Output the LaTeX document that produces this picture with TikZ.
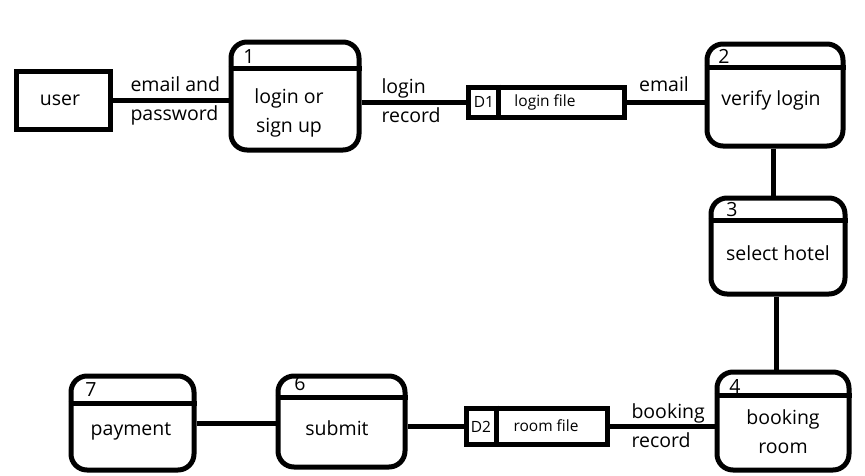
\documentclass[tikz,border=0pt]{standalone}
\usepackage{fontspec}
\setmainfont{Open Sans}
\usetikzlibrary{positioning}
\usetikzlibrary{calc}

\begin{document}
\begin{tikzpicture}[x=1pt, y=-1pt, line width=5pt,
  every node/.style={inner sep=0pt, font=\fontsize{19.5}{29}\selectfont},
  entity/.style={draw, minimum width=94pt, minimum height=58pt},
  proc/.style={draw, rounded corners=16pt},
  store/.style={draw, minimum height=30pt},
  small/.style={font=\fontsize{15.5}{18}\selectfont},
  txt/.style={align=center},
  flow/.style={align=left, anchor=west}]

        % Canvas
        \useasboundingbox (0,0) rectangle (865,475);

        % External entity
        \node[entity] (user) at (63,100) {};
        \node (userlbl) at (60,100) {user};

        % Processes
        \node[proc, minimum width=128pt, minimum height=108pt] (p1) at (295,96) {};
        \node[proc, minimum width=136pt, minimum height=102pt] (p2) at (775,95) {};
        \node[proc, minimum width=134pt, minimum height=96pt] (p3) at (778,246) {};
        \node[proc, minimum width=132pt, minimum height=98pt] (p4) at (783,421) {};
        \node[proc, minimum width=127pt, minimum height=91pt] (p6) at (341.5,421.5) {};
        \node[proc, minimum width=123pt, minimum height=94pt] (p7) at (132.5,423) {};

        % Header lines of the processes
        \foreach \p/\h in {p1/29, p2/26, p3/25, p4/26, p6/24, p7/30} {
          \draw ($(\p.north west)+(0,\h)$) -- ($(\p.north east)+(0,\h)$);
        }

        % Process numbers
        \node (n1) at (249,57) {1};
        \node (n2) at (724,56) {2};
        \node (n3) at (732,210) {3};
        \node (n4) at (735,386) {4};
        \node (n6) at (300,384) {6};
        \node (n7) at (91,390) {7};

        % Process texts
        \node[txt] (t1) at (289,113) {login or\\sign up};
        \node[txt] (t2) at (771,100) {verify login};
        \node[txt] (t3) at (778,253) {select hotel};
        \node[txt] (t4) at (783,432) {booking\\room};
        \node[txt] (t6) at (337,428) {submit};
        \node[txt] (t7) at (131,431) {payment};

        % Data stores
        \node[store, minimum width=156pt] (d1) at (546,102) {};
        \node[store, minimum width=141pt, minimum height=36pt] (d2) at (536.5,426) {};
        \draw ($(d1.north west)+(33,0)$) -- ($(d1.south west)+(33,0)$);
        \draw ($(d2.north west)+(33,0)$) -- ($(d2.south west)+(33,0)$);
        \node[small] (d1id) at (484,102) {D1};
        \node[small] (d1lbl) at (545,102) {login file};
        \node[small] (d2id) at (481,427) {D2};
        \node[small] (d2lbl) at (546,426) {room file};

        % Data flows
        \draw (user.east) -- (user.east -| p1.west);
        \draw (p1.east |- d1.west) -- (d1.west);
        \draw (d1.east) -- (d1.east -| p2.west);
        \draw (p2.south -| 773,0) -- (p3.north -| 773,0);
        \draw (p3.south -| 776,0) -- (p4.north -| 776,0);
        \draw (d2.east) -- (d2.east -| p4.west);
        \draw (d2.west) -- (d2.west -| p6.east);
        \draw (p7.east) -- (p7.east -| p6.west);

        % Flow labels
        \node[flow] (f1) at (128,101) {email and\\password};
        \node[flow] (f2) at (379,101) {login\\record};
        \node (f3) at (664,84) {email};
        \node[flow] (f4) at (629,426) {booking\\record};

      \end{tikzpicture}
\end{document}
